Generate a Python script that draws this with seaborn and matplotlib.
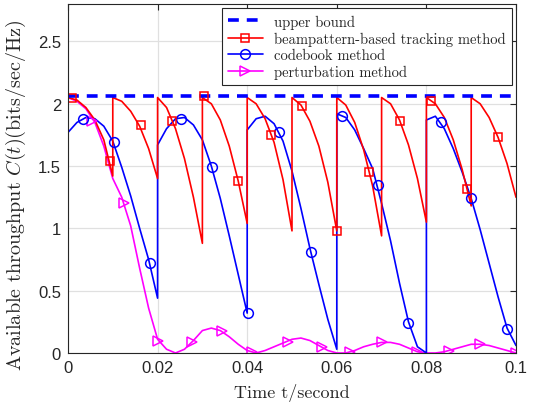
import numpy as np
import pandas as pd
import matplotlib
matplotlib.use("Agg")
import matplotlib.pyplot as plt
import seaborn as sns
from matplotlib.lines import Line2D

# ======================================
# DATA
# ======================================

upper_bound = 2.06

red_t = [0.000, 0.002, 0.004, 0.006, 0.008, 0.010,
         0.010, 0.012, 0.014, 0.016, 0.018, 0.020,
         0.020, 0.022, 0.024, 0.026, 0.028, 0.030,
         0.030, 0.032, 0.034, 0.036, 0.038, 0.040,
         0.040, 0.042, 0.044, 0.046, 0.048, 0.050,
         0.050, 0.052, 0.054, 0.056, 0.058, 0.060,
         0.060, 0.062, 0.064, 0.066, 0.068, 0.070,
         0.070, 0.072, 0.074, 0.076, 0.078, 0.080,
         0.080, 0.082, 0.084, 0.086, 0.088, 0.090,
         0.090, 0.092, 0.094, 0.096, 0.098, 0.100]
red_y = [2.05, 2.03, 1.97, 1.87, 1.71, 1.42,
         2.05, 2.02, 1.94, 1.82, 1.64, 1.40,
         2.05, 1.97, 1.80, 1.56, 1.25, 0.88,
         2.05, 2.00, 1.87, 1.66, 1.38, 1.04,
         2.05, 2.00, 1.88, 1.69, 1.39, 0.98,
         2.05, 1.99, 1.86, 1.66, 1.37, 0.98,
         2.05, 1.99, 1.85, 1.63, 1.34, 0.94,
         2.05, 2.00, 1.87, 1.67, 1.40, 1.05,
         2.05, 2.00, 1.89, 1.71, 1.47, 1.18,
         2.05, 2.00, 1.89, 1.73, 1.52, 1.25]
red_mark_t = [0.0010, 0.0094, 0.0163, 0.0232, 0.0304, 0.0380, 0.0453,
              0.0522, 0.0600, 0.0672, 0.0741, 0.0810, 0.0890, 0.0960]
red_mark_y = [2.05, 1.54, 1.83, 1.86, 2.06, 1.38, 1.75,
              1.98, 0.98, 1.45, 1.86, 2.02, 1.32, 1.73]

blue_t = [0.000, 0.002, 0.004, 0.006, 0.008, 0.010, 0.012, 0.014, 0.016, 0.018, 0.020,
          0.020, 0.022, 0.024, 0.026, 0.028, 0.030, 0.032, 0.034, 0.036, 0.038, 0.040,
          0.040, 0.042, 0.044, 0.046, 0.048, 0.050, 0.052, 0.054, 0.056, 0.058, 0.060,
          0.060, 0.062, 0.064, 0.066, 0.068, 0.070, 0.072, 0.074, 0.076, 0.078, 0.080,
          0.080, 0.082, 0.084, 0.086, 0.088, 0.090, 0.092, 0.094, 0.096, 0.098, 0.100]
blue_y = [1.77, 1.85, 1.89, 1.88, 1.82, 1.70, 1.49, 1.26, 1.00, 0.75, 0.44,
          1.67, 1.80, 1.88, 1.89, 1.83, 1.71, 1.50, 1.24, 0.94, 0.63, 0.32,
          1.79, 1.88, 1.90, 1.84, 1.70, 1.46, 1.16, 0.84, 0.55, 0.27, 0.03,
          1.92, 1.89, 1.79, 1.64, 1.48, 1.20, 0.90, 0.56, 0.25, 0.05, 0.00,
          1.87, 1.90, 1.80, 1.64, 1.45, 1.24, 0.99, 0.72, 0.45, 0.20, 0.06]
blue_mark_t = [0.0034, 0.0103, 0.0183, 0.0252, 0.0321, 0.0402, 0.0470,
               0.0542, 0.0612, 0.0691, 0.0760, 0.0832, 0.0900, 0.0980]
blue_mark_y = [1.88, 1.69, 0.72, 1.88, 1.49, 0.32, 1.77,
               0.81, 1.90, 1.35, 0.24, 1.85, 1.24, 0.19]

mag_t = [0.000, 0.002, 0.004, 0.006, 0.008, 0.010,
         0.012, 0.014, 0.016, 0.018, 0.020,
         0.022, 0.024, 0.026, 0.028, 0.030,
         0.032, 0.034, 0.036, 0.038, 0.040,
         0.042, 0.044, 0.046, 0.048, 0.050,
         0.052, 0.054, 0.056, 0.058, 0.060,
         0.062, 0.064, 0.066, 0.068, 0.070,
         0.072, 0.074, 0.076, 0.078, 0.080,
         0.082, 0.084, 0.086, 0.088, 0.090,
         0.092, 0.094, 0.096, 0.098, 0.100]
mag_y = [2.05, 2.02, 1.96, 1.85, 1.66, 1.40,
         1.25, 1.02, 0.68, 0.36, 0.11,
         0.03, 0.00, 0.03, 0.10, 0.18,
         0.20, 0.18, 0.13, 0.07, 0.02,
         0.00, 0.02, 0.05, 0.08, 0.11,
         0.12, 0.10, 0.06, 0.02, 0.00,
         0.00, 0.02, 0.05, 0.07, 0.085,
         0.085, 0.07, 0.04, 0.01, 0.00,
         0.00, 0.01, 0.03, 0.05, 0.07,
         0.07, 0.06, 0.04, 0.02, 0.00]
mag_mark_t = [0.0054, 0.0125, 0.0200, 0.0277, 0.0344, 0.0410, 0.0490,
              0.0567, 0.0630, 0.0700, 0.0780, 0.0850, 0.0920, 0.1000]
mag_mark_y = [1.86, 1.20, 0.10, 0.09, 0.18, 0.01, 0.09,
              0.05, 0.01, 0.085, 0.01, 0.02, 0.07, 0.00]

x_ticks = [0, 0.02, 0.04, 0.06, 0.08, 0.1]
x_tick_labels = ["0", "0.02", "0.04", "0.06", "0.08", "0.1"]
y_ticks = [0, 0.5, 1, 1.5, 2, 2.5]
y_tick_labels = ["0", "0.5", "1", "1.5", "2", "2.5"]

legend_labels = ["upper bound", "beampattern-based tracking method",
                 "codebook method", "perturbation method"]

# ======================================
# PLOT
# ======================================

sns.set_style("whitegrid")
plt.rcParams["mathtext.fontset"] = "cm"

RED = "#ff0000"
BLUE = "#0000ff"
MAG = "#ff00ff"

fig = plt.figure(figsize=(5.34, 4.10), dpi=100)
ax = fig.add_axes([0.1273, 0.1366, 0.839, 0.851])

red_df = pd.DataFrame({"t": red_t, "C": red_y})
blue_df = pd.DataFrame({"t": blue_t, "C": blue_y})
mag_df = pd.DataFrame({"t": mag_t, "C": mag_y})

sns.lineplot(data=mag_df, x="t", y="C", estimator=None, sort=False,
             color=MAG, lw=1.2, ax=ax)
sns.lineplot(data=blue_df, x="t", y="C", estimator=None, sort=False,
             color=BLUE, lw=1.2, ax=ax)
sns.lineplot(data=red_df, x="t", y="C", estimator=None, sort=False,
             color=RED, lw=1.2, ax=ax)
ax.axhline(upper_bound, color=BLUE, lw=2.6, ls=(0, (3, 2.2)))

ax.plot(mag_mark_t, mag_mark_y, ls="none", marker=">", ms=7,
        mfc="none", mec=MAG, mew=1.1)
ax.plot(blue_mark_t, blue_mark_y, ls="none", marker="o", ms=7,
        mfc="none", mec=BLUE, mew=1.1)
ax.plot(red_mark_t, red_mark_y, ls="none", marker="s", ms=6,
        mfc="none", mec=RED, mew=1.1)

ax.set_xlim(0, 0.1)
ax.set_ylim(0, 2.8)
ax.set_xticks(x_ticks)
ax.set_xticklabels(x_tick_labels, fontsize=12, family="Liberation Sans")
ax.set_yticks(y_ticks)
ax.set_yticklabels(y_tick_labels, fontsize=12, family="Liberation Sans")
ax.tick_params(direction="in", length=4, top=True, right=True,
               color="#262626", labelcolor="#262626", pad=5)
ax.grid(True, color="#e0e0e0", lw=0.9)
for s in ax.spines.values():
    s.set_color("#262626")
    s.set_linewidth(0.8)

ax.set_xlabel("Time t/second", fontsize=13, family="cmr10", color="#262626",
              labelpad=6)
ax.set_ylabel(r"Available throughput $C(t)$(bits/sec/Hz)", fontsize=14.5,
              family="cmr10", color="#262626", labelpad=4)
ax.yaxis.set_label_coords(-0.09, 0.455)

handles = [
    Line2D([], [], color=BLUE, lw=2.6, ls=(0, (3, 2.2))),
    Line2D([], [], color=RED, lw=1.2, marker="s", ms=6, mfc="none", mew=1.1),
    Line2D([], [], color=BLUE, lw=1.2, marker="o", ms=7, mfc="none", mew=1.1),
    Line2D([], [], color=MAG, lw=1.2, marker=">", ms=7, mfc="none", mew=1.1),
]
leg = ax.legend(handles, legend_labels, loc="upper right", fancybox=False,
                framealpha=1, edgecolor="#262626", borderaxespad=0.3,
                handlelength=2.4, labelspacing=0.2,
                prop={"family": "cmr10", "size": 10.5})
leg.get_frame().set_linewidth(0.8)

plt.savefig("out.png", dpi=100)
plt.close()
